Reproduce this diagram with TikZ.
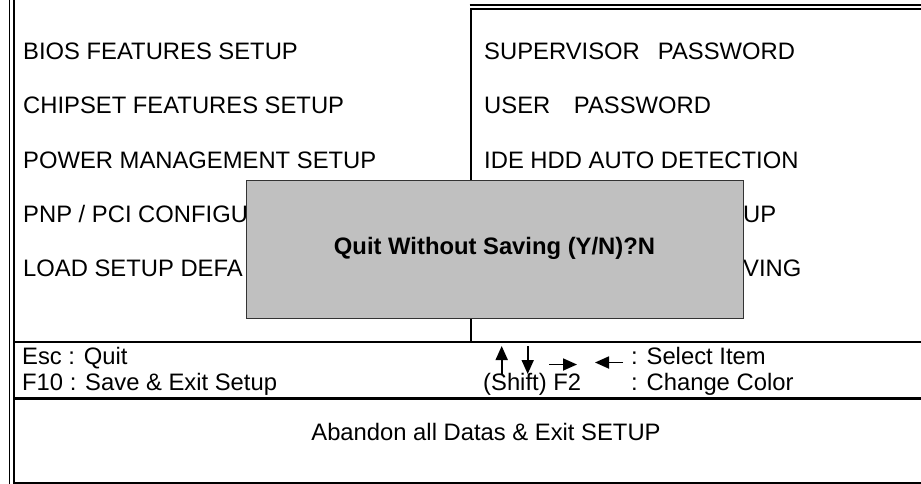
\documentclass[tikz,border=0pt]{standalone}
\usepackage{fontspec}
\setmainfont{Liberation Sans}
\usetikzlibrary{arrows.meta}
\definecolor{boxgray}{HTML}{C0C0C0}
\definecolor{boxedge}{HTML}{333333}
\tikzset{
  menu/.style={anchor=base west, inner sep=0pt, font=\fontsize{23.8}{28}\selectfont},
  hint/.style={anchor=base west, inner sep=0pt, font=\fontsize{23.8}{28}\selectfont},
  frameline/.style={line width=2.2pt},
  thinframe/.style={line width=1.6pt},
  keyarrow/.style={line width=1.8pt, -{Triangle[length=14pt,width=12pt]}},
  dialog/.style={draw=boxedge, fill=boxgray, line width=0.9pt, inner sep=0pt}
}
\begin{document}
\begin{tikzpicture}[x=1pt,y=-1pt]
\useasboundingbox (0,0) rectangle (921,484);
% frame lines
\coordinate (l1t) at (9.5,0);   \coordinate (l1b) at (9.5,484);
\coordinate (l2t) at (14,0);    \coordinate (l2b) at (14,484);
\draw[thinframe] (l1t) -- (l1b);
\draw[thinframe] (l2t) -- (l2b);
\coordinate (tOa) at (469.5,4.7); \coordinate (tOb) at (921,4.7);
\draw[line width=1.8pt] (tOa) -- (tOb);
\coordinate (tIa) at (921,9.2); \coordinate (tIc) at (470.7,9.2); \coordinate (tId) at (470.7,342);
\draw[frameline] (tIa) -- (tIc) -- (tId);
\coordinate (h1a) at (14,342);   \coordinate (h1b) at (921,342);
\coordinate (h2a) at (14,398.5); \coordinate (h2b) at (921,398.5);
\coordinate (h3a) at (14,483);   \coordinate (h3b) at (921,483);
\draw[frameline] (h1a) -- (h1b);
\draw[frameline] (h2a) -- (h2b);
\draw[frameline] (h3a) -- (h3b);
% left menu
\node[menu] (m1) at (23,60)  {BIOS FEATURES SETUP};
\node[menu] (m2) at (23,114) {CHIPSET FEATURES SETUP};
\node[menu] (m3) at (23,168) {POWER MANAGEMENT SETUP};
\node[menu] (m4) at (23,222) {PNP / PCI CONFIGU};
\node[menu] (m5) at (23,276) {LOAD SETUP DEFA};
% right menu
\node[menu] (r1) at (484,60)  {SUPERVISOR\hspace{11.5pt} PASSWORD};
\node[menu] (r2) at (484,114) {USER\hspace{17pt} PASSWORD};
\node[menu] (r3) at (484,168) {IDE HDD AUTO DETECTION};
\node[menu] (r4) at (743,222) {UP};
\node[menu] (r5) at (743,276) {VING};
% dialog
\node[dialog, minimum width=497pt, minimum height=138pt] (dlg) at (494.5,249) {};
\node[anchor=base, inner sep=0pt, font=\fontsize{23.8}{28}\selectfont\bfseries] (q) at (494.5,254.5) {Quit Without Saving (Y/N)?N};
% hints
\node[hint] (esc) at (22,364) {Esc : Quit};
\node[hint] (f10) at (22,390) {F10 : Save \& Exit Setup};
\node[hint] (sel) at (631,364) {: Select Item};
\node[hint] (shf) at (483,390) {(Shift) F2};
\node[hint] (chg) at (631,390) {: Change Color};
\coordinate (ua) at (501.7,374); \coordinate (ub) at (501.7,346);
\coordinate (da) at (527.7,346); \coordinate (db) at (527.7,374);
\coordinate (ra) at (549,364.5); \coordinate (rb) at (577,364.5);
\coordinate (la) at (623,362.5); \coordinate (lb) at (595,362.5);
\draw[keyarrow] (ua) -- (ub);
\draw[keyarrow] (da) -- (db);
\draw[keyarrow] (ra) -- (rb);
\draw[keyarrow] (la) -- (lb);
\node[anchor=base, inner sep=0pt, font=\fontsize{23.8}{28}\selectfont] (ab) at (486,440) {Abandon all Datas \& Exit SETUP};
\end{tikzpicture}
\end{document}
